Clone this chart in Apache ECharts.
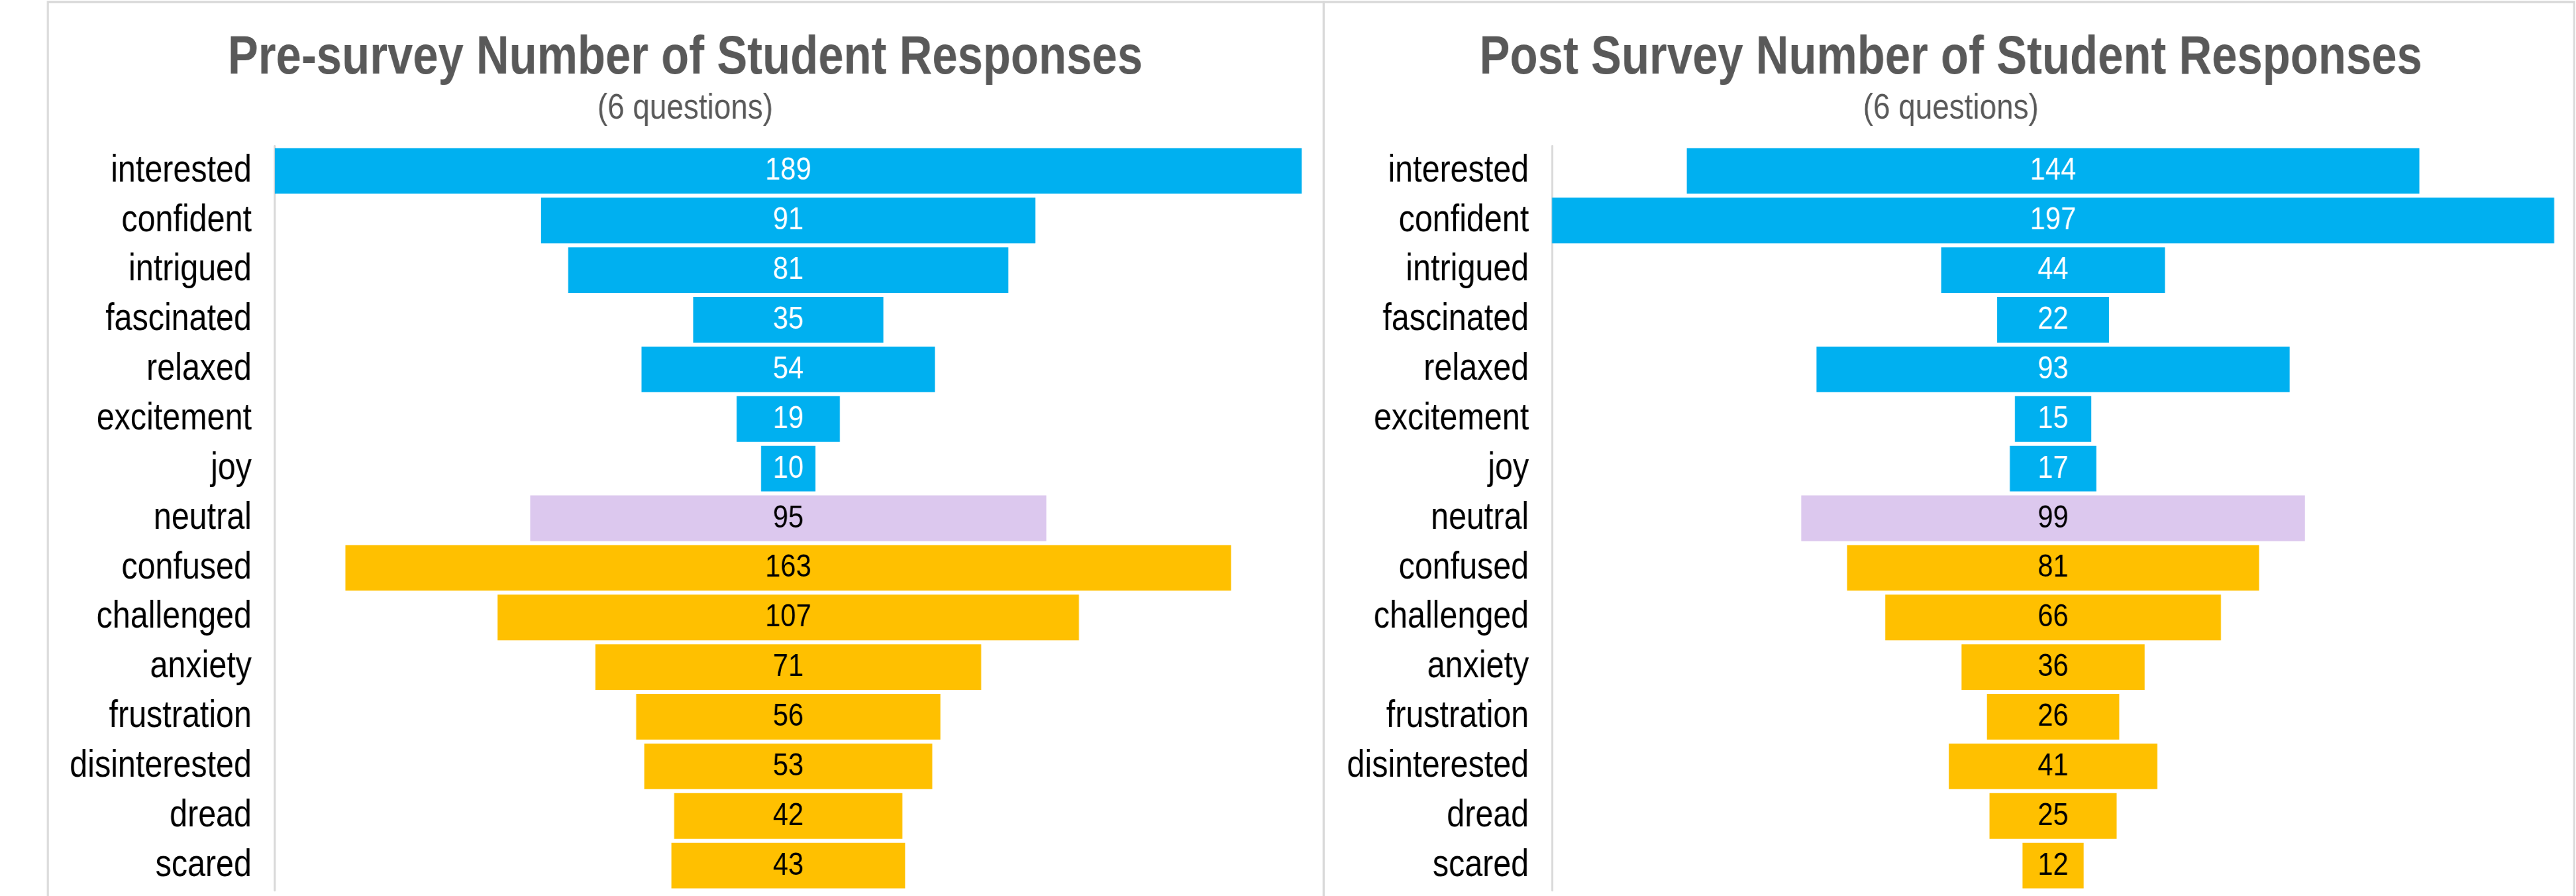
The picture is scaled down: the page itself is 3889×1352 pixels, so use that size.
<!DOCTYPE html>
<html>
<head>
<meta charset="utf-8">
<title>Student Responses</title>
<script src="https://cdn.jsdelivr.net/npm/echarts@6/dist/echarts.min.js"></script>
<style>
    html, body { margin: 0; padding: 0; background: #fff; overflow: hidden; }
    /* the reference is rendered with slightly condensed lettering, so the
       chart is drawn wider and squeezed back to 3889px */
    #chart { width: 4575px; height: 1352px; transform: scaleX(0.85); transform-origin: 0 0; }
</style>
</head>
<body>
<div id="chart"></div>
<script>
// emotions, top to bottom
const categories = ['interested', 'confident', 'intrigued', 'fascinated', 'relaxed', 'excitement', 'joy',
    'neutral', 'confused', 'challenged', 'anxiety', 'frustration', 'disinterested', 'dread', 'scared']
// 'pos' / 'neu' / 'neg' for each emotion
const tones = ['pos', 'pos', 'pos', 'pos', 'pos', 'pos', 'pos',
    'neu', 'neg', 'neg', 'neg', 'neg', 'neg', 'neg', 'neg']
const preValues = [189, 91, 81, 35, 54, 19, 10, 95, 163, 107, 71, 56, 53, 42, 43]
const postValues = [144, 197, 44, 22, 93, 15, 17, 99, 81, 66, 36, 26, 41, 25, 12]
const titles = ['Pre-survey Number of Student Responses', 'Post Survey Number of Student Responses']
const subtitle = '(6 questions)'

const toneColor = { pos: '#00B0F0', neu: '#DCC8EE', neg: '#FFC000' }
const toneText = { pos: '#ffffff', neu: '#000000', neg: '#000000' }
const font = "'Liberation Sans', Arial, sans-serif"

const chart = echarts.init(document.getElementById('chart'))

// panel geometry in chart px (before the 0.85 squeeze)
const panels = [
    { x0: 85, x1: 2351, gridLeft: 488, gridWidth: 1824, center: 1217, values: preValues },
    { x0: 2351, x1: 4572, gridLeft: 2756.5, gridWidth: 1780, center: 3465, values: postValues }
]

const grids = []
const xAxes = []
const yAxes = []
const series = []
const title = []
const graphics = []

panels.forEach((p, i) => {
    const max = Math.max(...p.values)

    grids.push({ left: p.gridLeft, width: p.gridWidth, top: 220.5, height: 1123 })
    xAxes.push({ gridIndex: i, type: 'value', min: 0, max: max, show: false })
    yAxes.push({
        gridIndex: i,
        type: 'category',
        data: categories,
        inverse: true,
        axisLine: { show: true, lineStyle: { color: '#D9D9D9', width: 3.5 } },
        axisTick: { show: false },
        axisLabel: { color: '#000', fontSize: 57, fontFamily: font, margin: 41 },
        splitLine: { show: false }
    })

    // invisible offset so each bar sits centred
    series.push({
        type: 'bar',
        xAxisIndex: i,
        yAxisIndex: i,
        stack: 'funnel' + i,
        silent: true,
        barCategoryGap: '8%',
        itemStyle: { color: 'transparent' },
        data: p.values.map(v => (max - v) / 2)
    })
    series.push({
        type: 'bar',
        xAxisIndex: i,
        yAxisIndex: i,
        stack: 'funnel' + i,
        barCategoryGap: '8%',
        data: p.values.map((v, k) => ({
            value: v,
            itemStyle: { color: toneColor[tones[k]] },
            label: { color: toneText[tones[k]] }
        })),
        label: {
            show: true,
            position: 'inside',
            fontSize: 49,
            fontFamily: font
        }
    })

    title.push({
        text: titles[i],
        left: p.center,
        top: 48,
        padding: 0,
        textAlign: 'center',
        textStyle: { color: '#595959', fontSize: 81, fontWeight: 'bold', fontFamily: font }
    })
    title.push({
        text: subtitle,
        left: p.center,
        top: 137,
        padding: 0,
        textAlign: 'center',
        textStyle: { color: '#595959', fontSize: 54, fontWeight: 'normal', fontFamily: font }
    })

    graphics.push({
        type: 'rect',
        silent: true,
        z: -1,
        shape: { x: p.x0, y: 3, width: p.x1 - p.x0, height: 1400 },
        style: { fill: 'none', stroke: '#D9D9D9', lineWidth: 3.5 }
    })
})

chart.setOption({
    animation: false,
    title: title,
    grid: grids,
    xAxis: xAxes,
    yAxis: yAxes,
    series: series,
    graphic: graphics
})

window.addEventListener('resize', () => chart.resize())
</script>
</body>
</html>
